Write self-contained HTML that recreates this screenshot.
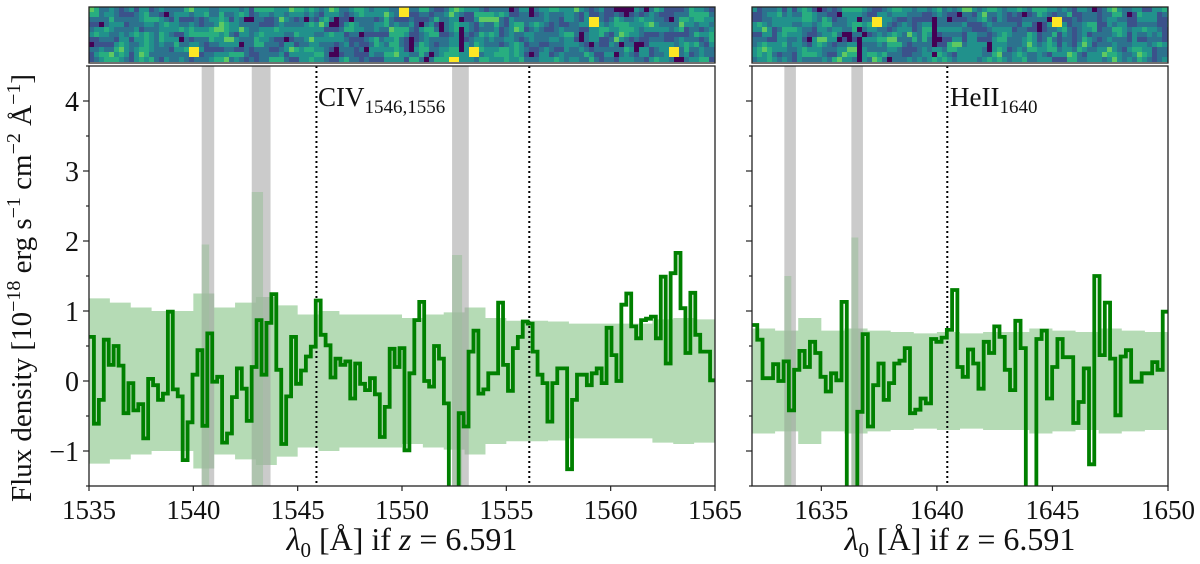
<!DOCTYPE html>
<html><head><meta charset="utf-8"><style>
body{margin:0;background:#fff;width:1200px;height:559px;overflow:hidden}
svg text{font-family:"Liberation Serif","DejaVu Serif",serif;fill:#111}
</style></head><body>
<svg id="chart" width="1200" height="559" viewBox="0 0 1200 559" xmlns="http://www.w3.org/2000/svg" font-family="Liberation Serif, DejaVu Serif, serif">
<defs>
<clipPath id="clipL"><rect x="89" y="66" width="626" height="420"/></clipPath>
<clipPath id="clipR"><rect x="752" y="66" width="416" height="420"/></clipPath>
</defs>
<text transform="translate(31,288) rotate(-90)" text-anchor="middle" font-size="29" font-family="Liberation Serif, serif">Flux density [10<tspan dy="-11" font-size="20">−18</tspan><tspan dy="11"> erg s</tspan><tspan dy="-11" font-size="20">−1</tspan><tspan dy="11"> cm</tspan><tspan dy="-11" font-size="20">−2</tspan><tspan dy="11"> Å</tspan><tspan dy="-11" font-size="20">−1</tspan><tspan dy="11">]</tspan></text>
</svg>
<script>
// ---- data ----
const fluxCIV = [0.63,-0.61,-0.27,0.59,0.23,0.50,0.22,-0.46,-0.03,-0.42,-0.33,-0.82,0.03,-0.06,-0.27,-0.18,0.99,-0.12,-0.22,-1.13,-0.59,0.09,0.44,-0.64,0.68,-0.01,0.06,-0.88,-0.75,-0.23,0.18,-0.11,-0.57,0.20,0.87,0.09,0.83,1.24,0.16,-0.90,-0.22,0.63,-0.04,0.15,0.35,0.49,1.15,0.66,0.51,0.05,0.32,0.23,0.28,-0.25,0.25,-0.04,-0.13,0.04,-0.19,-0.80,
-0.37,0.46,0.20,0.47,-0.99,0.11,0.87,1.13,0.00,-0.08,0.50,0.32,-0.32,-1.8,-1.8,-0.46,-0.65,0.42,0.72,-0.18,-0.12,0.11,0.11,1.12,0.23,-0.14,0.47,0.63,0.85,0.82,0.42,0.09,-0.03,-0.58,-0.03,0.18,0.18,-1.26,-0.27,0.09,0.09,-0.06,0.11,0.18,-0.03,0.76,0.37,0.00,1.09,1.25,0.78,0.61,0.87,0.89,0.92,0.61,1.49,0.25,1.54,1.83,1.04,0.40,1.26,0.66,0.42,0.42,0.01];
const fluxHeII = [0.80,0.59,0.04,0.04,0.24,0.00,0.28,-0.42,0.16,0.43,0.20,0.56,0.40,0.06,-0.15,0.11,0.01,1.13,-1.8,-1.8,-0.44,0.67,-0.65,-0.06,0.25,-0.27,-0.03,0.25,0.29,0.47,-0.46,-0.41,-0.25,-0.32,0.60,0.56,0.62,0.73,1.30,0.20,0.06,0.45,0.25,-0.11,0.56,0.40,0.78,0.63,0.16,-0.13,0.86,0.47,-1.8,-1.8,0.60,0.72,-0.25,0.20,0.60,0.34,0.34,-0.60,-0.30,0.18,-1.19,1.50,0.37,1.12,0.32,-0.49,0.35,0.44,-0.01,-0.01,0.11,0.11,0.27,0.16,0.99];
const sigmaCIV = [1.18,1.12,1.05,1.0,1.0,1.25,1.05,1.12,1.2,1.08,0.95,1.0,0.95,0.95,0.95,0.9,0.95,0.98,1.05,0.9,0.86,0.86,0.85,0.82,0.82,0.82,0.82,0.88,0.9,0.88];
const sigmaHeII = [0.75,0.72,0.9,0.72,0.75,0.72,0.7,0.68,0.7,0.68,0.7,0.7,0.75,0.72,0.7,0.75,0.72,0.7];
const skyCIV = [[1540.4,1541.0,1.95],[1542.8,1543.7,2.7],[1552.4,1553.2,1.8]];
const skyHeII = [[1633.4,1633.9,1.5],[1636.3,1636.8,2.05]];
const linesCIV = [1545.9,1556.1];
const linesHeII = [1640.45];
const xticksCIV = [1535,1540,1545,1550,1555,1560,1565];
const xticksHeII = [1635,1640,1645,1650];
const yticks = [-1,0,1,2,3,4];

const NS='http://www.w3.org/2000/svg';
const svg=document.getElementById('chart');
function mk(tag,attrs,parent){const e=document.createElementNS(NS,tag);for(const k in attrs)e.setAttribute(k,attrs[k]);(parent||svg).appendChild(e);return e;}
const Y0=66,Y1=486,ymin=-1.5,ymax=4.5;
const ys=v=>Y0+(ymax-v)/(ymax-ymin)*(Y1-Y0);
const FF='Liberation Serif, DejaVu Serif, serif';

function hash(i,j,s){let h=(i*374761393+j*668265263+s*982451653)|0;h=(h^(h>>>13))*1274126177|0;return ((h^(h>>>16))>>>0)/4294967295;}
const vir=['#440154','#3b528b','#2c728e','#21918c','#28ae80','#5ec962','#addc30','#fde725'];

function panel(o){
  const xs=v=>o.x0+(v-o.lo)/(o.hi-o.lo)*(o.x1-o.x0);
  const g=mk('g',{'clip-path':'url(#'+o.clip+')'});
  
  
  const sw=(o.hi-o.lo)/o.sigma.length;
  let up='',dn='';
  o.sigma.forEach((s,i)=>{const a=xs(o.lo+i*sw),b=xs(o.lo+(i+1)*sw);up+=`L${a},${ys(s)}L${b},${ys(s)}`;dn=`L${b},${ys(-s)}L${a},${ys(-s)}`+dn;});
  const band=mk('path',{d:'M'+up.slice(1)+dn+'Z',fill:'#b5dbb5'},g);
  
  
  o.sky.forEach(s=>{
    const r=mk('rect',{x:xs(s[0]),y:Y0,width:xs(s[1])-xs(s[0]),height:Y1-Y0,fill:'#a0a0a0','fill-opacity':0.55},g);
    
    
    const sp=mk('rect',{x:xs(s[0]),y:ys(s[2]),width:(xs(s[1])-xs(s[0]))*0.6,height:ys(-s[2])-ys(s[2]),fill:'#9cbf9c','fill-opacity':0.6},g);
    
    
  });
  o.lines.forEach(l=>{
    const d=mk('line',{x1:xs(l),x2:xs(l),y1:Y0,y2:Y1,stroke:'#000','stroke-width':2,'stroke-dasharray':'2,3'},g);
    
    
  });
  const fw=(o.hi-o.lo)/o.flux.length;
  let p='';
  o.flux.forEach((v,i)=>{const a=xs(o.lo+i*fw),b=xs(o.lo+(i+1)*fw);p+=(i?'L':'M')+a+','+ys(v)+'L'+b+','+ys(v);});
  const fl=mk('path',{d:p,fill:'none',stroke:'#008000','stroke-width':3.8,'stroke-linejoin':'miter'},g);
  
  
  const fr=mk('rect',{x:o.x0,y:Y0,width:o.x1-o.x0,height:Y1-Y0,fill:'none',stroke:'#222','stroke-width':1.3});
  
  
  o.xt.forEach(t=>{
    const x=xs(t);
    mk('line',{x1:x,x2:x,y1:Y1,y2:Y1+5,stroke:'#222','stroke-width':1.2});
    const tx=mk('text',{x:x,y:Y1+33,'text-anchor':'middle','font-size':27,'font-family':FF});
    tx.textContent=t;
    
    
  });
  for(let v=-1.5;v<=4.5;v+=0.5){const y=ys(v);const maj=Number.isInteger(v);mk('line',{x1:o.x0-(maj?6:3),x2:o.x0,y1:y,y2:y,stroke:'#222','stroke-width':1.2});}
  if(o.ylabels) yticks.forEach(v=>{
    const tx=mk('text',{x:o.x0-10,y:ys(v)+10,'text-anchor':'end','font-size':28,'font-family':FF});
    tx.textContent=(v<0?'−':'')+Math.abs(v);
    
    
  });
  const xt=mk('text',{x:(o.x0+o.x1)/2,y:550,'text-anchor':'middle','font-size':32,'font-family':FF});
  xt.innerHTML='<tspan font-style="italic">λ</tspan><tspan font-size="21" dy="7">0</tspan><tspan dy="-7"> [Å] if </tspan><tspan font-style="italic">z</tspan> = 6.591';
  
  
  const lb=mk('text',{x:o.lx,y:106,'font-size':27,'font-family':FF});
  lb.innerHTML=o.label;
  
  
  const ig=mk('g',{});
  
  
  const cw=5,ch=5,W=o.x1-o.x0;
  for(let i=0;i*cw<W;i++)for(let j=0;j<11;j++){
    let r=(hash(i,j,o.seed)*0.5+hash(i>>1,j>>1,o.seed+7)+hash((i+1)>>1,(j+1)>>1,o.seed+3))/2.5;
    let k=Math.round(-0.6+r*6.2);
    if(hash(i>>1,j>>1,o.seed+11)>0.98)k=7;
    const xx=o.x0+i*cw;
    o.dark.forEach(d=>{if(Math.abs(xx-d)<3&&j>1&&hash(i,j,o.seed+17)>0.2)k=0;});
    k=Math.max(0,Math.min(7,k));
    mk('rect',{x:xx,y:7+j*ch,width:Math.min(cw,W-i*cw),height:ch,fill:vir[k]},ig);
  }
  mk('rect',{x:o.x0,y:7,width:W,height:56,fill:'none',stroke:'#222','stroke-width':1.3},ig);
}
panel({name:'civ',x0:89,x1:715,lo:1535,hi:1565,flux:fluxCIV,sigma:sigmaCIV,sky:skyCIV,lines:linesCIV,xt:xticksCIV,ylabels:true,clip:'clipL',lx:318,label:'CIV<tspan font-size="19" dy="7">1546,1556</tspan>',seed:1,dark:[461]});
panel({name:'heii',x0:752,x1:1168,lo:1632,hi:1650,flux:fluxHeII,sigma:sigmaHeII,sky:skyHeII,lines:linesHeII,xt:xticksHeII,ylabels:false,clip:'clipR',lx:950,label:'HeII<tspan font-size="19" dy="7">1640</tspan>',seed:5,dark:[856,934]});
</script>
</body></html>
